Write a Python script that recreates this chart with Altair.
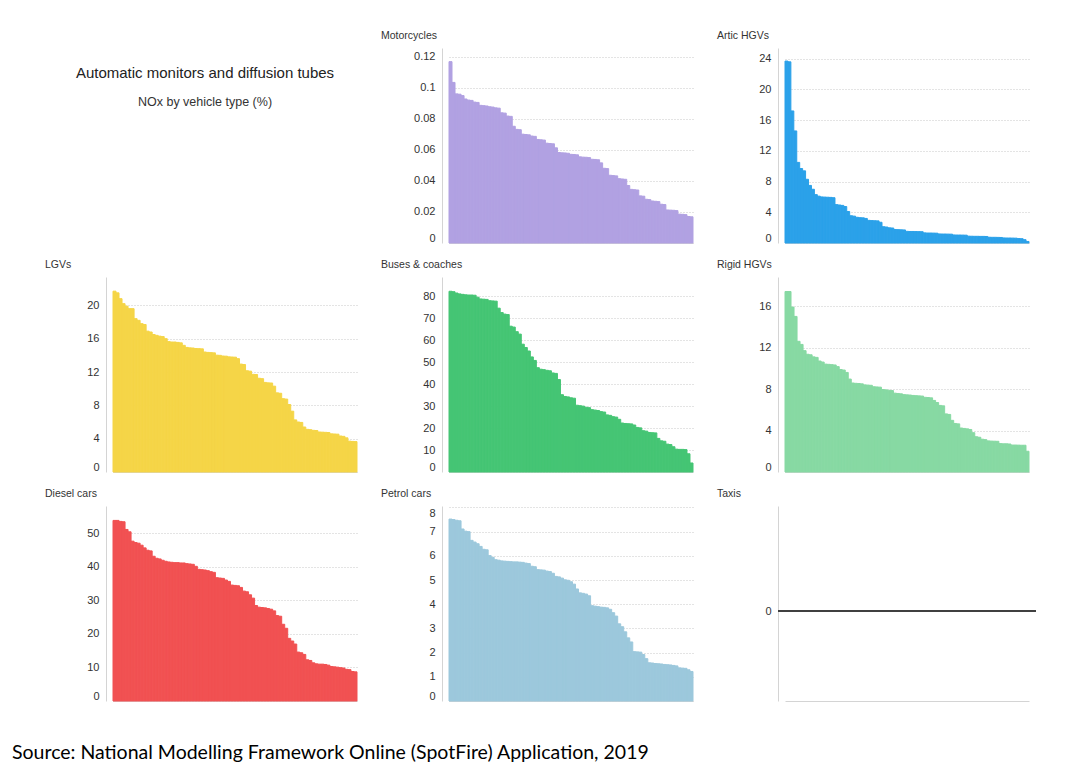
import altair as alt
import pandas as pd

main_title = "Automatic monitors and diffusion tubes"
sub_title = "NOx by vehicle type (%)"
source_text = "Source: National Modelling Framework Online (SpotFire) Application, 2019"

motorcycles = [0.117, 0.1036, 0.0962, 0.0960, 0.0951, 0.0929, 0.0922, 0.0920,
               0.0909, 0.0907, 0.0888, 0.0886, 0.0884, 0.0879, 0.0877, 0.0872,
               0.0870, 0.0840, 0.0838, 0.0819, 0.0817, 0.0753, 0.0733, 0.0731,
               0.0702, 0.0700, 0.0698, 0.0690, 0.0688, 0.0668, 0.0666, 0.0664,
               0.0644, 0.0642, 0.0640, 0.0614, 0.0584, 0.0582, 0.0581, 0.0579,
               0.0572, 0.0571, 0.0569, 0.0556, 0.0554, 0.0553, 0.0551, 0.0540,
               0.0539, 0.0537, 0.0517, 0.0482, 0.0480, 0.0437, 0.0435, 0.0433,
               0.0415, 0.0413, 0.0411, 0.0371, 0.0346, 0.0344, 0.0342, 0.0304,
               0.0302, 0.0282, 0.0280, 0.0271, 0.0269, 0.0267, 0.0250, 0.0248,
               0.0213, 0.0212, 0.0211, 0.0209, 0.0186, 0.0185, 0.0183, 0.0171,
               0.0169]

artic_hgvs = [23.7, 23.6, 17.2, 14.6, 10.5, 9.7, 9.4, 8.3, 7.5, 7.0, 6.3, 6.1,
              6.0, 5.98, 5.96, 5.94, 5.9, 5.0, 4.95, 4.9, 4.75, 4.1, 3.55, 3.5,
              3.35, 3.3, 3.28, 3.2, 2.95, 2.92, 2.9, 2.88, 2.7, 2.12, 2.08,
              1.98, 1.95, 1.76, 1.74, 1.72, 1.7, 1.52, 1.5, 1.5, 1.49, 1.48,
              1.47, 1.32, 1.3, 1.3, 1.29, 1.28, 1.18, 1.17, 1.17, 1.16, 1.15,
              1.05, 1.04, 1.04, 1.03, 1.02, 0.89, 0.88, 0.87, 0.87, 0.86, 0.86,
              0.85, 0.75, 0.74, 0.74, 0.73, 0.72, 0.66, 0.65, 0.65, 0.64, 0.63,
              0.58, 0.56, 0.43, 0.2]

lgvs = [21.7, 21.5, 20.8, 20.2, 19.9, 19.6, 19.6, 18.4, 18.2, 17.8, 17.7,
        16.9, 16.8, 16.5, 16.4, 16.3, 16.25, 16.0, 15.65, 15.6, 15.6, 15.55,
        15.5, 15.2, 14.95, 14.9, 14.88, 14.82, 14.8, 14.78, 14.4, 14.35, 14.33,
        14.3, 14.02, 14.0, 13.92, 13.9, 13.82, 13.8, 13.78, 13.6, 12.95, 12.9,
        12.15, 12.1, 11.72, 11.7, 11.25, 11.2, 10.75, 10.7, 10.68, 10.3, 9.5,
        9.45, 8.8, 8.75, 8.1, 7.3, 6.25, 6.0, 5.95, 5.4, 5.12, 5.08, 5.0, 4.98,
        4.8, 4.78, 4.76, 4.74, 4.58, 4.56, 4.54, 4.32, 4.28, 4.1, 3.7, 3.67,
        3.65]

buses_coaches = [82.3, 82.1, 81.5, 81.1, 80.9, 80.7, 80.6, 80.6, 80.5, 79.6,
                 78.8, 78.7, 78.6, 78.0, 77.9, 77.8, 74.6, 72.6, 71.9, 71.7,
                 66.4, 66.0, 63.9, 62.8, 58.2, 56.7, 55.1, 52.4, 50.8, 47.5,
                 46.8, 46.6, 46.3, 46.1, 45.1, 44.9, 42.1, 35.2, 34.4, 34.2,
                 33.8, 33.6, 30.4, 30.2, 30.0, 29.5, 29.3, 28.4, 28.2, 28.0,
                 27.5, 27.3, 26.0, 25.8, 25.2, 25.0, 24.0, 22.3, 22.1, 22.0,
                 21.9, 21.4, 20.3, 20.1, 18.8, 18.6, 18.0, 17.9, 17.8, 15.3,
                 14.2, 14.0, 12.7, 12.5, 11.5, 10.4, 10.3, 10.3, 10.2, 8.3, 4.1]

rigid_hgvs = [17.4, 17.4, 15.9, 15.0, 12.6, 12.3, 11.7, 11.35, 11.3, 11.1,
              11.05, 10.7, 10.6, 10.4, 10.38, 10.35, 10.32, 10.16, 9.88, 9.83,
              9.6, 8.96, 8.58, 8.55, 8.53, 8.5, 8.4, 8.38, 8.36, 8.22, 8.2,
              8.18, 7.95, 7.92, 7.88, 7.85, 7.6, 7.57, 7.54, 7.46, 7.44, 7.42,
              7.38, 7.36, 7.34, 7.32, 7.2, 7.18, 7.15, 6.9, 6.7, 6.42, 6.38,
              5.6, 5.55, 4.98, 4.68, 4.64, 4.24, 4.2, 4.16, 4.1, 3.79, 3.4,
              3.35, 3.16, 3.12, 3.0, 2.98, 2.97, 2.96, 2.74, 2.72, 2.72, 2.7,
              2.6, 2.6, 2.59, 2.58, 2.58, 2.0]

diesel_cars = [53.9, 53.9, 53.6, 53.5, 51.2, 50.5, 47.7, 47.3, 47.1, 46.5,
               45.7, 45.0, 44.8, 43.2, 42.6, 42.4, 42.0, 41.7, 41.5, 41.4,
               41.3, 41.3, 41.2, 41.2, 41.0, 40.9, 40.8, 40.2, 39.3, 39.2,
               39.1, 38.9, 38.6, 38.4, 36.8, 36.7, 36.6, 36.1, 35.7, 34.6,
               34.5, 34.4, 33.9, 32.8, 32.6, 31.7, 30.7, 28.5, 28.0, 27.9,
               27.8, 27.6, 27.4, 26.9, 25.5, 25.3, 22.9, 21.7, 18.7, 17.9,
               17.0, 14.6, 14.4, 13.9, 12.3, 12.1, 11.4, 11.1, 11.0, 11.0,
               10.9, 10.7, 10.3, 10.2, 10.1, 9.95, 9.85, 9.45, 9.35, 8.8, 8.7]

petrol_cars = [7.52, 7.5, 7.47, 7.45, 7.11, 7.02, 7.0, 6.64, 6.57, 6.5, 6.39,
               6.27, 6.25, 6.01, 5.94, 5.84, 5.82, 5.79, 5.78, 5.77, 5.76,
               5.75, 5.75, 5.74, 5.73, 5.7, 5.68, 5.57, 5.55, 5.43, 5.42, 5.41,
               5.37, 5.35, 5.28, 5.15, 5.13, 5.08, 5.01, 4.99, 4.93, 4.83,
               4.63, 4.47, 4.45, 4.42, 4.35, 3.94, 3.92, 3.9, 3.88, 3.87, 3.85,
               3.79, 3.65, 3.51, 3.19, 3.07, 2.86, 2.61, 2.44, 2.04, 2.03,
               2.02, 1.92, 1.75, 1.58, 1.57, 1.55, 1.54, 1.53, 1.51, 1.5, 1.49,
               1.47, 1.45, 1.37, 1.36, 1.35, 1.29, 1.22]

taxis = [0, 0, 0, 0, 0, 0, 0, 0, 0, 0]

# values, colour, y-domain max, tick values, tick format
panels = {
    "Motorcycles": (motorcycles, "#b1a1e2", 0.1258, [0, 0.02, 0.04, 0.06, 0.08, 0.1, 0.12], ".2~f"),
    "Artic HGVs": (artic_hgvs, "#2ba1e9", 25.4, [0, 4, 8, 12, 16, 20, 24], "d"),
    "LGVs": (lgvs, "#f5d547", 23.4, [0, 4, 8, 12, 16, 20], "d"),
    "Buses & coaches": (buses_coaches, "#45c574", 88.8, [0, 10, 20, 30, 40, 50, 60, 70, 80], "d"),
    "Rigid HGVs": (rigid_hgvs, "#87d9a3", 18.8, [0, 4, 8, 12, 16], "d"),
    "Diesel cars": (diesel_cars, "#f15152", 58.2, [0, 10, 20, 30, 40, 50], "d"),
    "Petrol cars": (petrol_cars, "#9cc8dc", 8.06, [0, 1, 2, 3, 4, 5, 6, 7, 8], "d"),
}

PW, PH = 258, 195
FONT = "Liberation Sans"
AXIS_GREY = "#d4d4d4"
X_RANGE = [7, PW - 7]


def y_axis(ticks, fmt):
    return alt.Axis(values=ticks, format=fmt, title=None, grid=True,
                    gridColor="#c8c8c8", gridDash=[1, 2], ticks=False,
                    labelPadding=7, labelFlush=3, minExtent=62, maxExtent=62,
                    domainColor=AXIS_GREY, labelColor="#333333",
                    labelFontSize=11, labelFont=FONT)


x_axis = alt.Axis(labels=False, ticks=False, title=None, grid=False,
                  domainColor=AXIS_GREY)


def panel_title(name):
    return alt.Title(name, anchor="start", frame="group", dx=-61, offset=-1,
                     baseline="alphabetic", fontSize=10.5, font=FONT,
                     color="#333333", fontWeight="normal")


def bar_panel(name):
    values, color, ymax, ticks, fmt = panels[name]
    df = pd.DataFrame({"site": list(range(1, len(values) + 1)), "value": values})
    return alt.Chart(df).mark_bar(color=color, stroke=color, strokeWidth=1).encode(
        x=alt.X("site:O", axis=x_axis,
                scale=alt.Scale(paddingInner=0, paddingOuter=0, range=X_RANGE)),
        y=alt.Y("value:Q", axis=y_axis(ticks, fmt),
                scale=alt.Scale(domain=[0, ymax], nice=False, zero=True)),
    ).properties(width=PW, height=PH, title=panel_title(name))


taxi_df = pd.DataFrame({"site": list(range(1, len(taxis) + 1)), "value": taxis})
taxi_base = alt.Chart(taxi_df)
taxi_bars = taxi_base.mark_bar(opacity=0).encode(
    x=alt.X("site:O", axis=x_axis,
            scale=alt.Scale(paddingInner=0, paddingOuter=0, range=X_RANGE)),
    y=alt.Y("value:Q", axis=y_axis([0], "d"),
            scale=alt.Scale(domain=[-0.9, 1.05], nice=False, zero=False)),
)
taxi_rule = taxi_base.mark_rule(color="#404040", strokeWidth=2).encode(y="value:Q")
taxi_panel = alt.layer(taxi_bars, taxi_rule).properties(
    width=PW, height=PH, title=panel_title("Taxis"))

# header cell: same plot-area footprint as the panels below it
header = alt.layer(
    alt.Chart(pd.DataFrame({"t": [main_title]})).mark_text(
        font=FONT, fontSize=15, color="#222222").encode(
        text="t:N", x=alt.value(99), y=alt.value(25)),
    alt.Chart(pd.DataFrame({"t": [sub_title]})).mark_text(
        font=FONT, fontSize=12.5, color="#333333").encode(
        text="t:N", x=alt.value(99), y=alt.value(54)),
).properties(width=PW, height=PH)

HS = 16
row1 = alt.hconcat(header, bar_panel("Motorcycles"), bar_panel("Artic HGVs"), spacing=HS)
row2 = alt.hconcat(bar_panel("LGVs"), bar_panel("Buses & coaches"), bar_panel("Rigid HGVs"), spacing=HS)
row3 = alt.hconcat(bar_panel("Diesel cars"), bar_panel("Petrol cars"), taxi_panel, spacing=HS)

chart = alt.vconcat(row1, row2, row3, spacing=15).properties(
    title=alt.Title(source_text, orient="bottom", anchor="start", frame="bounds",
                    dx=-32, offset=42, baseline="top", font="Lato", fontSize=19.5,
                    color="#000000", fontWeight="normal"),
    padding={"left": 4, "top": 22, "right": 5, "bottom": 0},
).configure_view(strokeWidth=0)

chart.save("out.html", embed_options={"renderer": "svg", "actions": False})
